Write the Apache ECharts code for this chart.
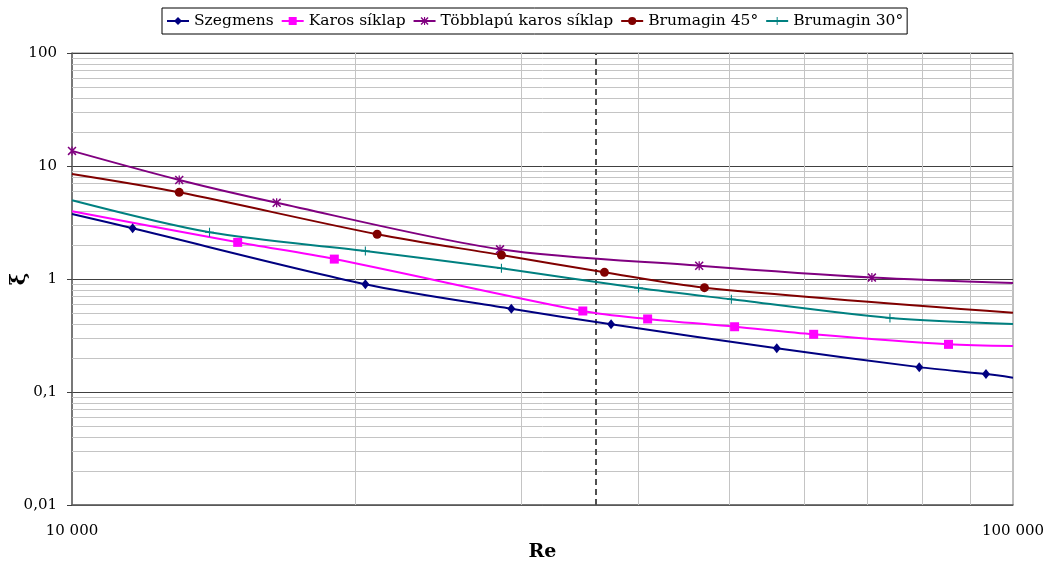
<!DOCTYPE html>
<html>
<head>
<meta charset="utf-8">
<script src="https://cdn.jsdelivr.net/npm/echarts@6/dist/echarts.min.js"></script>
<style>
  html, body { margin: 0; padding: 0; background: #fff; }
  #chart { width: 1048px; height: 565px; }
</style>
</head>
<body>
<div id="chart"></div>
<script>
// Loss coefficient ξ versus Reynolds number for the tested flap geometries
const seriesNames = ['Szegmens', 'Karos síklap', 'Többlapú karos síklap', 'Brumagin 45°', 'Brumagin 30°'];

const szegmensRe = [10000, 11600, 20500, 29300, 37400, 56100, 79500, 93600, 100000];
const szegmensXi = [3.76, 2.81, 0.90, 0.546, 0.397, 0.244, 0.166, 0.144, 0.134];
const szegmensPlain = [10000, 100000];

const karosRe = [10000, 15000, 19000, 34900, 40900, 50600, 61400, 85400, 100000];
const karosXi = [3.97, 2.11, 1.50, 0.521, 0.443, 0.378, 0.324, 0.264, 0.255];
const karosPlain = [10000, 100000];

const tobblapuRe = [10000, 13000, 16500, 28500, 46400, 70800, 100000];
const tobblapuXi = [13.6, 7.52, 4.73, 1.83, 1.31, 1.03, 0.922];
const tobblapuPlain = [100000];

const brum45Re = [10000, 13000, 21100, 28600, 36800, 47000, 100000];
const brum45Xi = [8.50, 5.85, 2.49, 1.63, 1.146, 0.838, 0.503];
const brum45Plain = [10000, 100000];

const brum30Re = [10000, 14000, 20500, 28600, 40000, 50200, 74000, 100000];
const brum30Xi = [4.97, 2.59, 1.77, 1.244, 0.832, 0.661, 0.452, 0.40];
const brum30Plain = [10000, 100000];

// Reference Re marked by the dashed vertical line
const markedRe = 36000;

// Intermediate (non-decade) grid values
const xMinorGrid = [20000, 30000, 40000, 50000, 60000, 70000, 80000, 90000];
const yMinorGrid = [];
[0.01, 0.1, 1, 10].forEach(function (d) {
  for (let k = 2; k <= 9; k++) yMinorGrid.push(+(d * k).toPrecision(6));
});

const FONT = 'DejaVu Serif';

const asteriskPath = 'path://M4.3,0H5.7V10H4.3Z M0,1.2L1.2,0L10,8.8L8.8,10Z M8.8,0L10,1.2L1.2,10L0,8.8Z';
const plusPath = 'path://M4.4,0H5.6V10H4.4Z M0,4.4H10V5.6H0Z';

function points(re, xi, plain) {
  return re.map(function (r, i) {
    const item = { value: [r, xi[i]] };
    if (plain.indexOf(r) !== -1) item.symbol = 'none';
    return item;
  });
}

function curve(name, color, re, xi, plain, symbol, size) {
  return {
    name: name,
    type: 'line',
    smooth: 0.3,
    z: 5,
    symbol: symbol,
    symbolSize: size,
    showAllSymbol: true,
    lineStyle: { color: color, width: 2 },
    itemStyle: { color: color },
    emphasis: { disabled: true },
    data: points(re, xi, plain)
  };
}

function thousands(v) {
  return String(Math.round(v)).replace(/\B(?=(\d{3})+(?!\d))/g, ' ');
}

const gridLines = [];
yMinorGrid.forEach(function (v) { gridLines.push({ yAxis: v }); });
xMinorGrid.forEach(function (v) { gridLines.push({ xAxis: v }); });
gridLines.push({
  xAxis: markedRe,
  lineStyle: { color: '#505050', width: 2, type: [6, 4] }
});

const chart = echarts.init(document.getElementById('chart'), null, { renderer: 'canvas' });

chart.setOption({
  animation: false,
  backgroundColor: '#ffffff',
  textStyle: { fontFamily: FONT, color: '#000' },
  legend: {
    top: 8,
    left: 162,
    data: seriesNames,
    itemWidth: 22,
    itemHeight: 10,
    itemGap: 7,
    padding: [5, 4, 5, 4],
    borderColor: '#000',
    borderWidth: 1,
    textStyle: { fontFamily: FONT, fontSize: 15.5, color: '#000' }
  },
  grid: {
    left: 72,
    right: 35,
    top: 53,
    bottom: 60,
    containLabel: false,
    outerBoundsMode: 'none',
    show: true,
    borderColor: '#808080',
    borderWidth: 1,
    backgroundColor: 'transparent'
  },
  xAxis: {
    type: 'log',
    logBase: 10,
    min: 10000,
    max: 100000,
    name: 'Re',
    nameLocation: 'middle',
    nameGap: 38,
    nameMoveOverlap: false,
    nameTextStyle: { fontFamily: FONT, fontSize: 19, fontWeight: 'bold', color: '#000' },
    axisLine: { lineStyle: { color: '#606060', width: 1.5 } },
    axisTick: { show: false },
    splitLine: { show: false },
    axisLabel: {
      margin: 19,
      fontFamily: FONT,
      fontSize: 15,
      color: '#000',
      formatter: thousands
    }
  },
  yAxis: {
    type: 'log',
    logBase: 10,
    min: 0.01,
    max: 100,
    name: 'ξ',
    nameLocation: 'middle',
    nameRotate: 90,
    nameGap: 42,
    nameMoveOverlap: false,
    nameTextStyle: { fontFamily: FONT, fontSize: 21, fontWeight: 'bold', color: '#000' },
    axisLine: { show: true, lineStyle: { color: '#606060', width: 1.5 } },
    axisTick: { show: true, length: 5, lineStyle: { color: '#404040', width: 1 } },
    splitLine: { show: true, lineStyle: { color: '#404040', width: 1 } },
    axisLabel: {
      margin: 15,
      fontFamily: FONT,
      fontSize: 15,
      color: '#000',
      formatter: function (v) { return String(+v.toPrecision(6)).replace('.', ','); }
    }
  },
  series: [
    {
      name: 'grid',
      type: 'line',
      z: 1,
      data: [],
      silent: true,
      markLine: {
        silent: true,
        symbol: 'none',
        animation: false,
        label: { show: false },
        emphasis: { disabled: true },
        lineStyle: { color: '#c4c4c4', width: 1, type: 'solid' },
        data: gridLines
      }
    },
    curve(seriesNames[0], '#000080', szegmensRe, szegmensXi, szegmensPlain, 'diamond', [8, 10]),
    curve(seriesNames[1], '#ff00ff', karosRe, karosXi, karosPlain, 'rect', 9),
    curve(seriesNames[2], '#800080', tobblapuRe, tobblapuXi, tobblapuPlain, asteriskPath, 9),
    curve(seriesNames[3], '#800000', brum45Re, brum45Xi, brum45Plain, 'circle', 9),
    curve(seriesNames[4], '#008080', brum30Re, brum30Xi, brum30Plain, plusPath, 9)
  ]
});
</script>
</body>
</html>
